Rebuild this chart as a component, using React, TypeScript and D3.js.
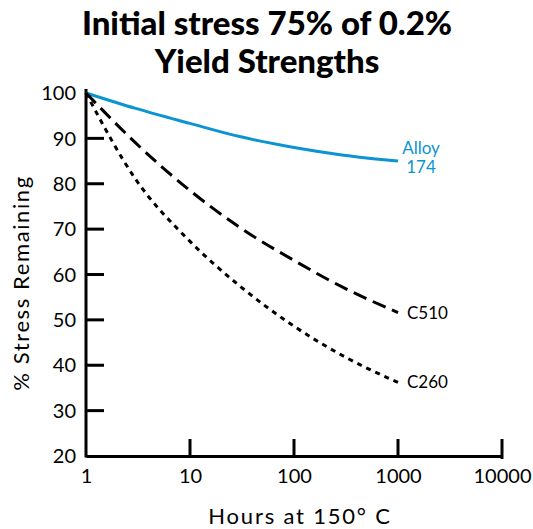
import { useEffect, useRef } from 'react'
import * as d3 from 'd3'

const hours = [1, 3, 10, 30, 100, 300, 1000]
const alloy174 = [100, 96.6, 93.3, 90.4, 88.0, 86.3, 85.0]
const c510 = [100, 89.0, 78.5, 70.4, 63.1, 57.1, 51.6]
const c260 = [100, 81.0, 67.3, 57.5, 48.6, 42.0, 36.2]
const xTicks = [1, 10, 100, 1000, 10000]
const yTicks = [20, 30, 40, 50, 60, 70, 80, 90, 100]

const series = [
  { name: 'Alloy 174', values: alloy174, color: '#0c94d2', dash: null, label: ['Alloy', '174'] },
  { name: 'C510', values: c510, color: '#000', dash: '14,7', label: ['C510'] },
  { name: 'C260', values: c260, color: '#000', dash: '5,5', label: ['C260'] },
]

const FONT = 'Lato, "Open Sans", sans-serif'

function App() {
  const ref = useRef<SVGSVGElement>(null)

  useEffect(() => {
    const svg = d3.select(ref.current)
    svg.selectAll('*').remove()

    const x = d3.scaleLog().domain([1, 10000]).range([86, 502])
    const y = d3.scaleLinear().domain([20, 100]).range([456, 93])

    // title
    const title = svg.append('text')
      .attr('text-anchor', 'middle')
      .attr('font-family', FONT)
      .attr('font-weight', 900)
      .attr('font-size', 33)
    title.append('tspan').attr('x', 267).attr('y', 35).text('Initial stress 75% of 0.2%')
    title.append('tspan').attr('x', 267).attr('y', 73).text('Yield Strengths')

    // x axis
    const gx = svg.append('g').attr('transform', `translate(0,${y(20)})`)
      .call(d3.axisBottom(x).tickValues(xTicks).tickSize(0).tickPadding(13).tickFormat(d3.format('d')))
    gx.select('.domain').attr('stroke', '#000').attr('stroke-width', 3)
    gx.selectAll('text').attr('font-family', FONT).attr('font-size', 20).attr('fill', '#000')
    svg.append('g').selectAll('line')
      .data(xTicks.slice(1))
      .enter()
      .append('line')
      .attr('x1', (d) => x(d))
      .attr('x2', (d) => x(d))
      .attr('y1', y(20) - 17)
      .attr('y2', (d) => (d === 10000 ? y(20) + 3 : y(20)))
      .attr('stroke', '#000')
      .attr('stroke-width', 3)

    // y axis
    svg.append('line')
      .attr('x1', x(1)).attr('x2', x(1))
      .attr('y1', 89).attr('y2', y(20) + 1.5)
      .attr('stroke', '#000').attr('stroke-width', 3)
    svg.append('g').selectAll('line')
      .data(yTicks.filter((d) => d > 20 && d < 100))
      .enter()
      .append('line')
      .attr('x1', x(1))
      .attr('x2', x(1) + 18)
      .attr('y1', (d) => y(d))
      .attr('y2', (d) => y(d))
      .attr('stroke', '#000')
      .attr('stroke-width', 3)
    svg.append('g').selectAll('text')
      .data(yTicks)
      .enter()
      .append('text')
      .attr('x', x(1) - 10)
      .attr('y', (d) => y(d))
      .attr('dy', '0.36em')
      .attr('text-anchor', 'end')
      .attr('font-family', FONT)
      .attr('font-size', 20)
      .text((d) => d)

    // axis titles
    svg.append('text')
      .attr('x', 300)
      .attr('y', 524)
      .attr('text-anchor', 'middle')
      .attr('font-family', FONT)
      .attr('font-size', 22)
      .attr('letter-spacing', 1.8)
      .text('Hours at 150° C')
    svg.append('text')
      .attr('transform', `translate(29,283) rotate(-90)`)
      .attr('text-anchor', 'middle')
      .attr('font-family', FONT)
      .attr('font-size', 22)
      .attr('letter-spacing', 1.6)
      .text('% Stress Remaining')

    // curves
    const line = d3.line<number>()
      .x((_, i) => x(hours[i]))
      .y((d) => y(d))
      .curve(d3.curveMonotoneX)

    series.forEach((s) => {
      svg.append('path')
        .attr('d', line(s.values))
        .attr('fill', 'none')
        .attr('stroke', s.color)
        .attr('stroke-width', 3)
        .attr('stroke-dasharray', s.dash)
    })

    // end labels
    const lab = svg.append('g').attr('font-family', FONT).attr('font-size', 17)
    lab.append('text').attr('x', 421).attr('y', 154).attr('text-anchor', 'middle')
      .attr('fill', series[0].color).text(series[0].label[0])
    lab.append('text').attr('x', 421).attr('y', 173).attr('text-anchor', 'middle')
      .attr('fill', series[0].color).text(series[0].label[1])
    lab.append('text').attr('x', 407).attr('y', y(c510[c510.length - 1])).attr('dy', '0.36em')
      .text(series[1].label[0])
    lab.append('text').attr('x', 407).attr('y', y(c260[c260.length - 1]) - 1).attr('dy', '0.36em')
      .text(series[2].label[0])
  }, [])

  return (
    <svg
      ref={ref}
      width={533}
      height={529}
      style={{ position: 'absolute', left: 0, top: 0, background: '#fff' }}
    />
  )
}

export default App
